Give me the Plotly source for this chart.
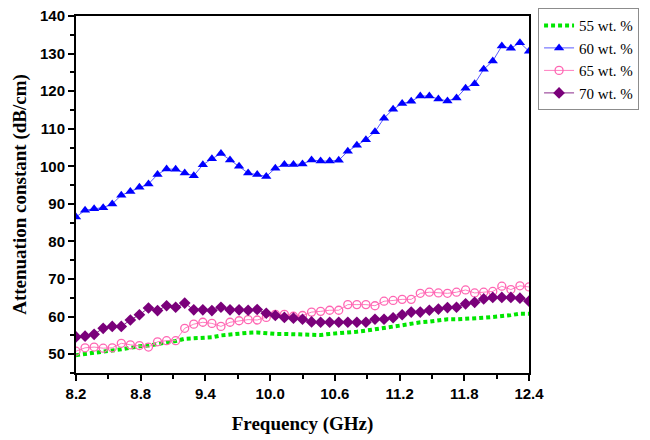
import numpy as np
import plotly.graph_objects as go

freq = np.linspace(8.2, 12.4, 51)

wt55 = [49.75, 50.0, 50.3, 50.7, 51.0, 51.3, 51.75, 52.1, 52.3, 52.7, 52.9, 53.5, 54.1, 54.2, 54.2, 54.5,
        55.0, 55.3, 55.5, 55.7, 55.8, 55.5, 55.4, 55.4,
        55.3, 55.2, 55.1, 55.1, 55.4, 55.6, 55.6, 56.0, 56.3, 56.6, 56.8, 57.35, 57.7, 58.2, 58.5, 58.7,
        59.0, 59.3, 59.3, 59.4, 59.4, 59.7, 59.9, 60.1, 60.4, 60.8, 60.8]

wt60 = [86.5, 88.3, 88.7, 89.0, 90.0, 92.3, 93.3, 94.4, 95.3, 97.8,
        99.3, 99.2, 98.2, 97.5, 100.4, 102.0, 103.4, 101.7, 100.0, 98.2,
        97.8, 97.3, 99.5, 100.5, 100.5, 100.6, 101.7, 101.4, 101.4, 101.6,
        104.0, 105.6, 107.1, 109.2, 112.8, 115.2, 116.7, 117.3, 118.7, 118.7,
        117.9, 117.4, 118.2, 120.8, 122.0, 125.8, 128.0, 132.0, 131.4, 132.9, 130.6]

wt65 = [50.8, 51.7, 51.9, 51.6, 51.7, 52.9, 52.5, 52.3, 51.9, 53.3, 53.6, 53.6, 56.9, 58.0, 58.5, 58.2,
        57.4, 58.5, 58.9, 59.2, 59.1, 59.8, 60.6, 60.6,
        60.1, 60.3, 61.2, 61.4, 61.7, 61.7, 63.2, 63.2, 63.2, 62.9, 64.1, 64.3, 64.6, 64.6, 66.2, 66.5,
        66.3, 66.2, 66.5, 67.1, 66.3, 66.5, 66.7, 68.1, 67.2, 68.2, 67.9]

wt70 = [54.6, 54.8, 55.3, 56.9, 57.4, 57.4, 59.1, 60.5, 62.3, 61.6, 62.9, 62.5, 63.6, 61.8, 61.8, 61.6,
        62.5, 61.8, 61.8, 61.7, 61.9, 60.9, 60.3, 59.8,
        59.6, 59.3, 58.6, 58.5, 58.5, 58.5, 58.5, 58.5, 58.5, 59.3, 59.3, 59.7, 60.5, 61.2, 61.2, 61.7,
        62.0, 62.4, 62.5, 63.4, 63.8, 64.7, 65.1, 65.1, 65.1, 64.9, 64.1]

names = ["55 wt. %", "60 wt. %", "65 wt. %", "70 wt. %"]

fig = go.Figure()
fig.add_trace(go.Scatter(x=freq, y=wt55, name=names[0], mode="lines",
                         line=dict(color="#00e600", width=4, dash="4px,3px")))
fig.add_trace(go.Scatter(x=freq, y=wt60, name=names[1], mode="lines+markers",
                         line=dict(color="#5a5aff", width=1),
                         marker=dict(symbol="triangle-up", size=9, color="#0000ff",
                                     line=dict(width=0))))
fig.add_trace(go.Scatter(x=freq, y=wt65, name=names[2], mode="lines+markers",
                         line=dict(color="#ff7ec0", width=1),
                         marker=dict(symbol="circle-open", size=8, color="#ff66b3",
                                     line=dict(width=1.3))))
fig.add_trace(go.Scatter(x=freq, y=wt70, name=names[3], mode="lines+markers",
                         line=dict(color="#8a2a8a", width=1),
                         marker=dict(symbol="diamond", size=9, color="#7a007a",
                                     line=dict(width=0))))

tickfont = dict(family="Liberation Sans, Arial", size=15, color="black", weight="bold")
titlefont = dict(family="Liberation Serif, Times New Roman", size=19, color="black", weight="bold")

fig.update_layout(
    width=650, height=440,
    margin=dict(l=76, r=121, t=8, b=67),
    paper_bgcolor="white", plot_bgcolor="white",
    showlegend=True,
    legend=dict(x=1.02, y=1.022, xanchor="left", yanchor="top",
                bordercolor="#8c8c8c", borderwidth=1, bgcolor="white",
                font=dict(family="Liberation Serif, Times New Roman", size=15, color="black"),
                tracegroupgap=0, itemwidth=30),
    xaxis=dict(range=[8.2, 12.4], tick0=8.2, dtick=0.6, tickformat=".1f",
               showgrid=False, zeroline=False, showline=True, linecolor="black", linewidth=2,
               mirror=True, ticks="outside", ticklen=6, tickwidth=2, tickcolor="black",
               minor=dict(dtick=0.3, tick0=8.2, ticks="outside", ticklen=4, tickwidth=2, tickcolor="black"),
               tickfont=tickfont,
               title=dict(text="Frequency (GHz)", font=titlefont, standoff=16)),
    yaxis=dict(range=[45, 140], tick0=50, dtick=10,
               showgrid=False, zeroline=False, showline=True, linecolor="black", linewidth=2,
               mirror=True, ticks="outside", ticklen=6, tickwidth=2, tickcolor="black",
               minor=dict(dtick=5, tick0=45, ticks="outside", ticklen=4, tickwidth=2, tickcolor="black"),
               tickfont=tickfont,
               title=dict(text="Attenuation constant (dB/cm)", font=titlefont, standoff=8)),
)

fig.write_html("out.html")
